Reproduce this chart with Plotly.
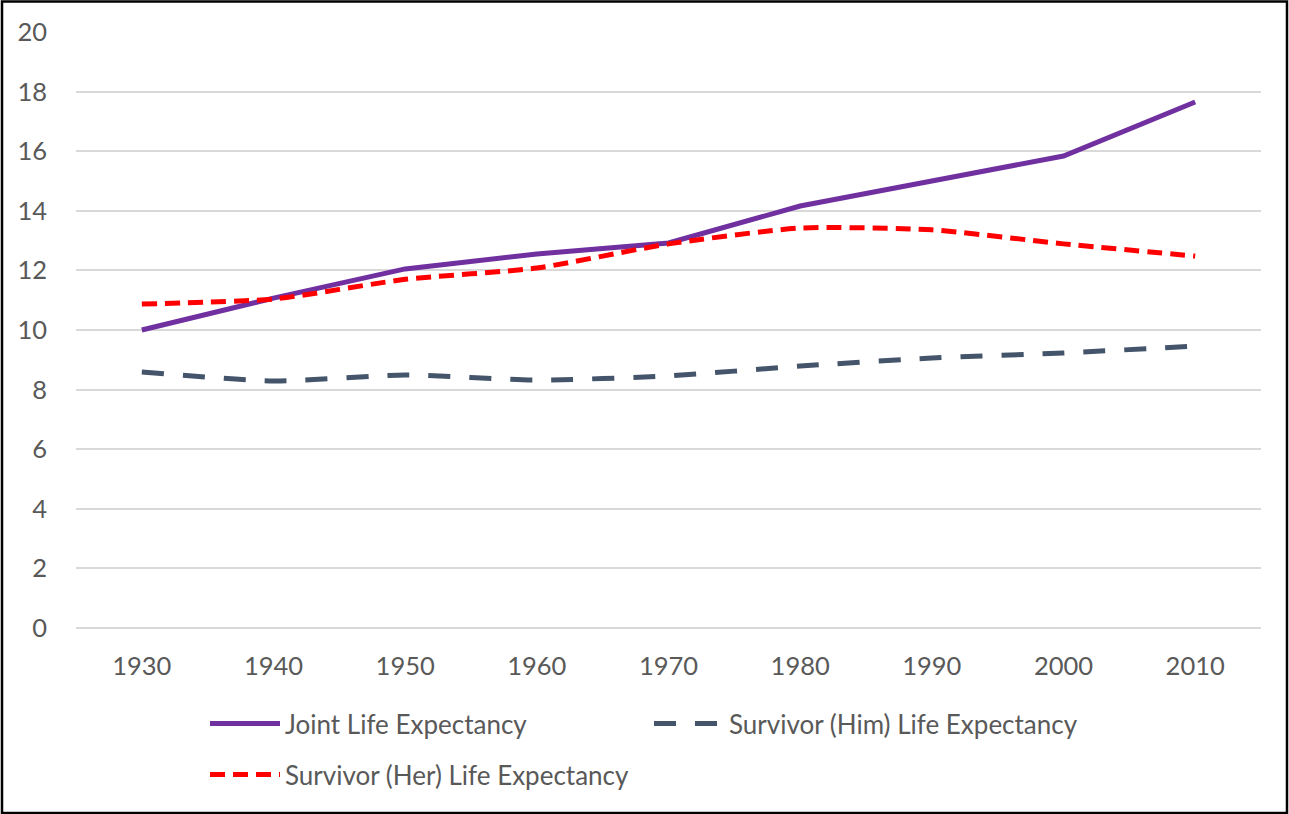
import plotly.graph_objects as go

years = [1930, 1940, 1950, 1960, 1970, 1980, 1990, 2000, 2010]
joint = [10.0, 11.07, 12.05, 12.55, 12.92, 14.16, 15.0, 15.84, 17.65]
him = [8.59, 8.29, 8.49, 8.32, 8.46, 8.79, 9.06, 9.23, 9.46]
her = [10.87, 11.04, 11.7, 12.08, 12.89, 13.42, 13.36, 12.89, 12.48]
y_ticks = [0, 2, 4, 6, 8, 10, 12, 14, 16, 18, 20]

FONT = "Lato"
W, H = 1289, 814
L, R, T, B = 76, 28, 32, 186

fig = go.Figure()
fig.add_trace(go.Scatter(x=years, y=joint, mode="lines", name="Joint Life Expectancy",
                         line=dict(color="#7030A0", width=5), legend="legend"))
fig.add_trace(go.Scatter(x=years, y=him, mode="lines", name="Survivor (Him) Life Expectancy",
                         line=dict(color="#44546A", width=5, dash="22px,19px", shape="spline", smoothing=0.6),
                         legend="legend"))
fig.add_trace(go.Scatter(x=years, y=her, mode="lines", name="Survivor (Her) Life Expectancy",
                         line=dict(color="#FF0000", width=5, dash="15px,8px", shape="spline", smoothing=0.6),
                         legend="legend2"))

pw = W - L - R
ph = H - T - B
def px_x(p):
    return (p - L) / pw
def px_y(p):
    return (H - B - p) / ph

fig.add_shape(type="rect", xref="paper", yref="paper",
              x0=px_x(2), x1=px_x(1287), y0=px_y(813), y1=px_y(1.5),
              line=dict(color="black", width=2.5), layer="above")

leg_font = dict(family=FONT, size=26, color="#595959")
fig.update_layout(
    width=W, height=H,
    margin=dict(l=L, r=R, t=T, b=B),
    paper_bgcolor="white", plot_bgcolor="white",
    font=dict(family=FONT, size=25.5, color="#595959"),
    showlegend=True,
    legend=dict(orientation="h", x=px_x(205), xanchor="left", y=px_y(700), yanchor="top",
                entrywidth=359, entrywidthmode="pixels", itemwidth=70,
                font=leg_font, tracegroupgap=0, itemclick=False, bgcolor="rgba(0,0,0,0)"),
    legend2=dict(orientation="h", x=px_x(205), xanchor="left", y=px_y(751), yanchor="top",
                 entrywidth=359, entrywidthmode="pixels", itemwidth=70,
                 font=leg_font, tracegroupgap=0, itemclick=False, bgcolor="rgba(0,0,0,0)"),
    xaxis=dict(range=[1925, 2015], tickmode="array", tickvals=years,
               ticktext=[str(y) for y in years], showgrid=False, zeroline=False,
               showline=False, ticks="", ticklabelstandoff=20, fixedrange=True),
    yaxis=dict(range=[0, 20], tickmode="array", tickvals=y_ticks,
               ticktext=[str(v) for v in y_ticks], showgrid=True, gridcolor="#D9D9D9",
               gridwidth=1.5, zeroline=True, zerolinecolor="#D9D9D9", zerolinewidth=1.5,
               showline=False, ticks="", ticklabelstandoff=28, fixedrange=True),
)

fig.write_html("out.html", config={"displayModeBar": False},
               post_script="document.body.style.margin='0';")
